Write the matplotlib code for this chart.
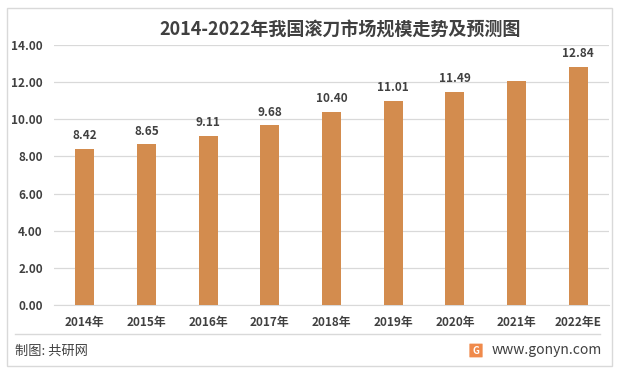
import matplotlib.pyplot as plt
from matplotlib.patches import Rectangle, FancyBboxPatch

plt.rcParams['font.family'] = ['Noto Sans CJK SC', 'DejaVu Sans']

years = ['2014年', '2015年', '2016年', '2017年', '2018年', '2019年', '2020年', '2021年', '2022年E']
values = [8.42, 8.65, 9.11, 9.68, 10.40, 11.01, 11.49, 12.06, 12.84]
labels = ['8.42', '8.65', '9.11', '9.68', '10.40', '11.01', '11.49', '', '12.84']

fig = plt.figure(figsize=(6.26, 3.76), dpi=100)
ax = fig.add_axes([0.086, 0.189, 0.887, 0.691])

x = range(len(years))
ax.bar(x, values, width=0.31, color='#D38C4E', zorder=3)
for i, v in enumerate(values):
    if labels[i]:
        ax.text(i, v + 0.35, labels[i], ha='center', va='bottom', fontsize=8.5,
                fontweight='bold', color='#404040')

ax.set_xlim(-0.5, len(years) - 0.5)
ax.set_ylim(0, 14)
ax.set_yticks([0, 2, 4, 6, 8, 10, 12, 14])
ax.set_yticklabels(['%.2f' % t for t in ax.get_yticks()], fontsize=8.5, color='#404040', fontweight='bold')
ax.set_xticks(list(x))
ax.set_xticklabels(years, fontsize=8.5, color='#404040', fontweight='bold')
ax.tick_params(axis='both', length=0)
ax.tick_params(axis='x', pad=8)
ax.tick_params(axis='y', pad=8)
ax.grid(axis='y', color='#D9D9D9', linewidth=0.9, zorder=0)
for s in ['top', 'right', 'left']:
    ax.spines[s].set_visible(False)
ax.spines['bottom'].set_color('#D9D9D9')

fig.text(0.543, 0.92, '2014-2022年我国滚刀市场规模走势及预测图', ha='center', va='center',
         fontsize=13, fontweight='bold', color='#404040')

# outer frame and separator
fig.patches.append(Rectangle((7 / 626, 1 - 366 / 376), 605 / 626, 358 / 376, transform=fig.transFigure,
                             fill=False, edgecolor='#D9D9D9', linewidth=1))
fig.add_artist(plt.Line2D([15 / 626, 600 / 626], [1 - 334 / 376] * 2, color='#D9D9D9', linewidth=1))

fig.text(15 / 626, 1 - 351 / 376, '制图: 共研网', ha='left', va='center', fontsize=9.5, color='#404040')
fig.text(602 / 626, 1 - 350 / 376, 'www.gonyn.com', ha='right', va='center', fontsize=10, color='#404040')
fig.patches.append(FancyBboxPatch((470 / 626, 1 - 357 / 376), 12 / 626, 13 / 376, transform=fig.transFigure,
                                  boxstyle='round,pad=0.001', facecolor='#F08A4B', edgecolor='none'))
fig.text(476 / 626, 1 - 350.5 / 376, 'G', ha='center', va='center', fontsize=7, color='white', fontweight='bold')

fig.savefig('out.png', dpi=100)
